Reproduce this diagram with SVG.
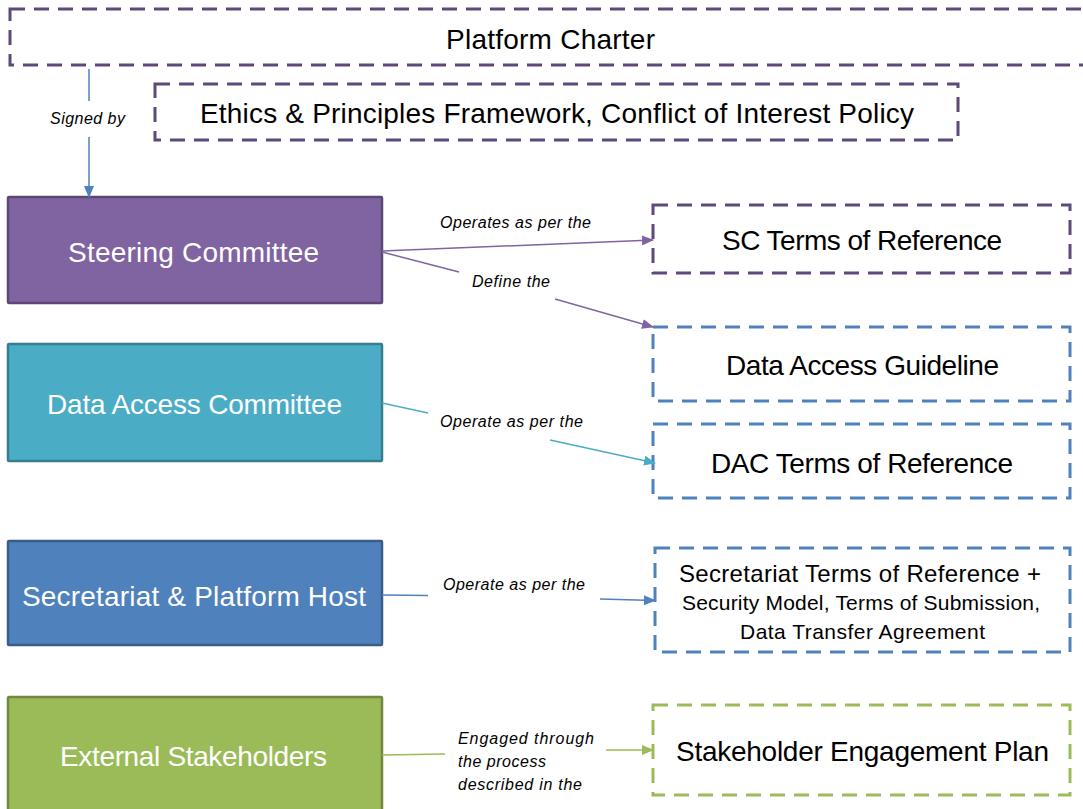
<svg xmlns="http://www.w3.org/2000/svg" width="1083" height="809" viewBox="0 0 1083 809">
<style>
.lbl{font-family:"Liberation Sans",Arial,sans-serif;fill:#000;font-size:28px}
.s24{font-size:24px}
.s21{font-size:21px}
.wl{font-family:"Liberation Sans",Arial,sans-serif;fill:#fff;font-size:28px}
.el{font-family:"Liberation Sans",Arial,sans-serif;font-style:italic;font-size:16px;fill:#000}
.dp{fill:none;stroke:#5F497A;stroke-width:3;stroke-dasharray:15 9}
.db{fill:none;stroke:#4F81BD;stroke-width:3;stroke-dasharray:15 9}
.dg{fill:none;stroke:#9BBB59;stroke-width:3;stroke-dasharray:15 9}
.c{fill:none;stroke-width:1.5}
</style>
<defs>
<marker id="ab" markerWidth="12" markerHeight="10" refX="11" refY="5" orient="auto" markerUnits="userSpaceOnUse"><path d="M0,0 L12,5 L0,10 z" fill="#4F81BD"/></marker>
<marker id="ap" markerWidth="12" markerHeight="10" refX="11" refY="5" orient="auto" markerUnits="userSpaceOnUse"><path d="M0,0 L12,5 L0,10 z" fill="#8064A2"/></marker>
<marker id="at" markerWidth="12" markerHeight="10" refX="11" refY="5" orient="auto" markerUnits="userSpaceOnUse"><path d="M0,0 L12,5 L0,10 z" fill="#4BACC6"/></marker>
<marker id="ag" markerWidth="12" markerHeight="10" refX="11" refY="5" orient="auto" markerUnits="userSpaceOnUse"><path d="M0,0 L12,5 L0,10 z" fill="#9BBB59"/></marker>
</defs>

<g id="platform-charter">
<rect class="dp" x="10" y="9" width="1090" height="56"/>
<text class="lbl" x="446" y="49" textLength="209" lengthAdjust="spacing">Platform Charter</text>
</g>
<g id="ethics">
<rect class="dp" x="155" y="84" width="803" height="56"/>
<text class="lbl" x="200" y="123" textLength="714" lengthAdjust="spacing">Ethics &amp; Principles Framework,  Conflict of Interest Policy</text>
</g>

<g id="steering-committee">
<rect x="8" y="197" width="374" height="106" fill="#8064A2" stroke="#5C4776" stroke-width="2.5" rx="1"/>
<text class="wl" x="68" y="262" textLength="251" lengthAdjust="spacing">Steering Committee</text>
</g>
<g id="data-access-committee">
<rect x="8" y="344" width="374" height="117" fill="#4BACC6" stroke="#357D91" stroke-width="2.5" rx="1"/>
<text class="wl" x="47" y="414" textLength="295" lengthAdjust="spacing">Data Access Committee</text>
</g>
<g id="secretariat">
<rect x="8" y="541" width="374" height="104" fill="#4F81BD" stroke="#385D8A" stroke-width="2.5" rx="1"/>
<text class="wl" x="22" y="606" textLength="344" lengthAdjust="spacing">Secretariat &amp; Platform Host</text>
</g>
<g id="external-stakeholders">
<rect x="8" y="697" width="374" height="120" fill="#9BBB59" stroke="#71893F" stroke-width="2.5" rx="1"/>
<text class="wl" x="60" y="766" textLength="267" lengthAdjust="spacing">External Stakeholders</text>
</g>

<g id="sc-tor">
<rect class="dp" x="653" y="205" width="417" height="68"/>
<text class="lbl" x="722" y="250" textLength="280" lengthAdjust="spacing">SC Terms of Reference</text>
</g>
<g id="data-access-guideline">
<rect class="db" x="653" y="327" width="417" height="74"/>
<text class="lbl" x="726" y="375" textLength="273" lengthAdjust="spacing">Data Access Guideline</text>
</g>
<g id="dac-tor">
<rect class="db" x="653" y="424" width="417" height="74"/>
<text class="lbl" x="711" y="473" textLength="302" lengthAdjust="spacing">DAC Terms of Reference</text>
</g>
<g id="secretariat-tor">
<rect class="db" x="655" y="548" width="415" height="104"/>
<text class="lbl s24" x="679" y="582" textLength="362" lengthAdjust="spacing">Secretariat Terms of Reference +</text>
<text class="lbl s21" x="682" y="610" textLength="358" lengthAdjust="spacing">Security Model, Terms of Submission,</text>
<text class="lbl s21" x="740" y="639" textLength="245" lengthAdjust="spacing">Data Transfer Agreement</text>
</g>
<g id="stakeholder-plan">
<rect class="dg" x="653" y="705" width="417" height="90"/>
<text class="lbl" x="676" y="761" textLength="373" lengthAdjust="spacing">Stakeholder Engagement Plan</text>
</g>

<g id="connectors">
<line class="c" stroke="#4F81BD" x1="89" y1="69" x2="89" y2="101"/>
<line class="c" stroke="#4F81BD" x1="89" y1="137" x2="89" y2="197" marker-end="url(#ab)"/>
<text class="el" x="50" y="124" textLength="75" lengthAdjust="spacing">Signed by</text>

<line class="c" stroke="#8064A2" x1="382" y1="251" x2="653" y2="240" marker-end="url(#ap)"/>
<text class="el" x="440" y="228" textLength="151" lengthAdjust="spacing">Operates as per the</text>

<line class="c" stroke="#8064A2" x1="382" y1="252" x2="459" y2="272"/>
<line class="c" stroke="#8064A2" x1="555" y1="299" x2="653" y2="327" marker-end="url(#ap)"/>
<text class="el" x="472" y="287" textLength="78" lengthAdjust="spacing">Define the</text>

<line class="c" stroke="#4BACC6" x1="382" y1="403" x2="428" y2="413"/>
<line class="c" stroke="#4BACC6" x1="550" y1="440" x2="655" y2="463" marker-end="url(#at)"/>
<text class="el" x="440" y="427" textLength="143" lengthAdjust="spacing">Operate as per the</text>

<line class="c" stroke="#4F81BD" x1="382" y1="595" x2="428" y2="595.5"/>
<line class="c" stroke="#4F81BD" x1="600" y1="599" x2="655" y2="600.5" marker-end="url(#ab)"/>
<text class="el" x="443" y="590" textLength="142" lengthAdjust="spacing">Operate as per the</text>

<line class="c" stroke="#9BBB59" x1="382" y1="755" x2="445" y2="754"/>
<line class="c" stroke="#9BBB59" x1="606" y1="750" x2="653" y2="750" marker-end="url(#ag)"/>
<text class="el" x="458" y="744" textLength="136" lengthAdjust="spacing">Engaged through</text>
<text class="el" x="458" y="767" textLength="88" lengthAdjust="spacing">the process</text>
<text class="el" x="458" y="790" textLength="124" lengthAdjust="spacing">described in the</text>
</g>
</svg>
